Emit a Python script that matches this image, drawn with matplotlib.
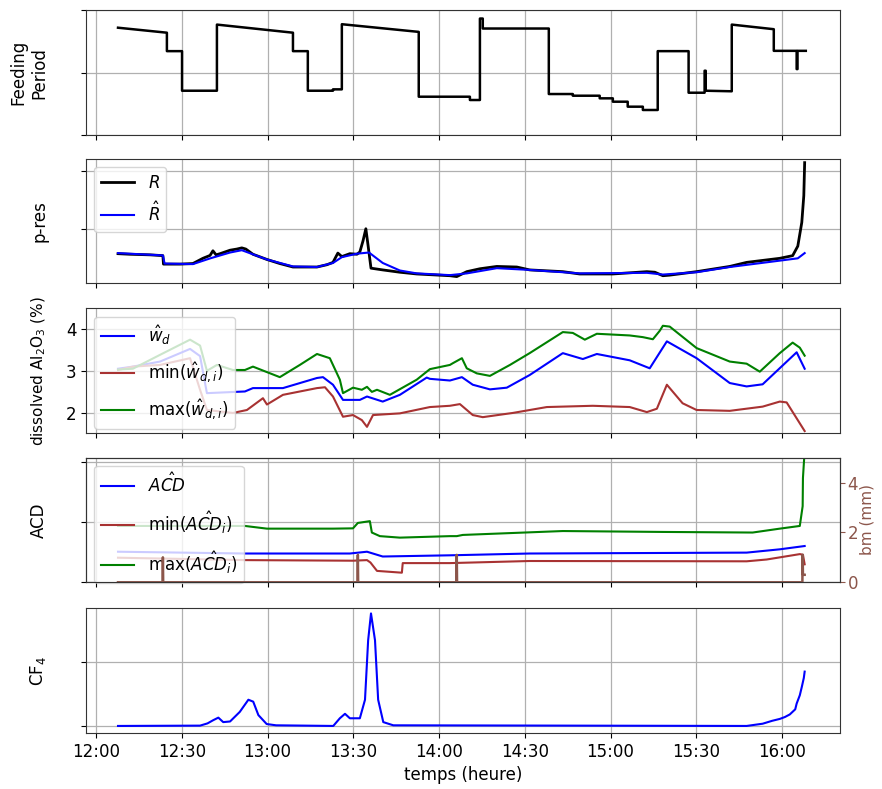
import numpy as np
import pandas as pd
import matplotlib
matplotlib.use('Agg')
import matplotlib.pyplot as plt
import matplotlib.dates as mdates

# minutes after 12:00 for every series
feed_t = [7.7, 24.8, 24.8, 30.1, 30.1, 42.3, 42.3, 68.9, 68.9, 74.1, 74.1, 82.9, 82.9, 86.0, 86.0,
          112.9, 112.9, 130.8, 130.8, 134.3, 134.3, 135.3, 135.3, 158.4, 158.4, 166.8, 166.8, 176.2,
          176.2, 180.8, 180.8, 186.0, 186.0, 191.3, 191.3, 196.5, 196.5, 207.3, 207.3, 212.9, 212.9,
          213.3, 213.3, 222.4, 222.4, 237.1, 237.1, 245.1, 245.1, 245.4, 245.4, 248.3]
feed_v = [1.72, 1.64, 1.344, 1.344, 0.709, 0.709, 1.77, 1.64, 1.344, 1.344, 0.709, 0.709, 0.731, 0.731, 1.776,
          1.653, 0.613, 0.613, 0.56, 0.56, 1.867, 1.867, 1.707, 1.707, 0.656, 0.656, 0.629, 0.629,
          0.587, 0.587, 0.533, 0.533, 0.453, 0.453, 0.40, 0.40, 1.344, 1.344, 0.677, 0.677, 1.03,
          1.03, 0.709, 0.70, 1.77, 1.696, 1.349, 1.349, 1.056, 1.056, 1.349, 1.349]

r_t = [7.7, 11.9, 18.9, 23.4, 23.6, 29.4, 33.9, 37.4, 39.9, 40.9, 42.0, 43.4, 46.9, 49.3, 51.0, 52.4,
       54.9, 59.8, 64.3, 68.9, 77.3, 80.8, 82.9, 84.6, 86.0, 88.8, 91.3, 92.3, 93.4, 94.4, 95.1, 96.2,
       100.3, 106.3, 112.2, 123.8, 126.2, 129.7, 134.3, 140.2, 147.2, 151.7, 163.3, 169.2, 180.8,
       192.7, 195.5, 198.3, 200.7, 210.1, 221.7, 227.6, 239.2, 243.7, 245.5, 246.9, 247.6, 247.9]
r_v = [0.58, 0.57, 0.56, 0.546, 0.40, 0.40, 0.41, 0.50, 0.55, 0.63, 0.56, 0.58, 0.64, 0.66, 0.68, 0.66,
       0.57, 0.48, 0.41, 0.35, 0.35, 0.39, 0.43, 0.59, 0.53, 0.58, 0.57, 0.61, 0.80, 1.01, 0.75, 0.33,
       0.30, 0.26, 0.23, 0.20, 0.185, 0.27, 0.32, 0.36, 0.35, 0.30, 0.27, 0.23, 0.23,
       0.27, 0.26, 0.20, 0.21, 0.27, 0.36, 0.43, 0.50, 0.546, 0.71, 1.12, 1.58, 2.15]

rhat_t = [7.7, 23.4, 24.0, 33.9, 40.0, 46.9, 51.0, 59.8, 68.9, 77.3, 82.9, 86.0, 91.3, 95.5, 100.3,
          106.3, 112.2, 123.8, 129.7, 140.2, 151.7, 169.2, 192.7, 198.3, 210.1, 221.7, 239.2, 245.5, 247.9]
rhat_v = [0.59, 0.55, 0.41, 0.40, 0.50, 0.60, 0.64, 0.48, 0.36, 0.35, 0.42, 0.52, 0.58, 0.60, 0.42,
          0.29, 0.24, 0.21, 0.24, 0.33, 0.30, 0.24, 0.25, 0.22, 0.26, 0.35, 0.46, 0.50, 0.59]

wmax_t = [7.7, 12.9, 22.4, 32.9, 36.4, 38.8, 42.3, 47.9, 52.1, 54.9, 64.3, 71.3, 77.3, 81.8, 85.3, 86.4,
          89.9, 93.0, 94.8, 96.5, 98.3, 102.8, 112.2, 116.8, 123.8, 124.8, 128.0, 129.7, 133.2, 137.8,
          144.8, 151.7, 163.3, 166.8, 171.0, 175.2, 186.7, 191.3, 194.8, 197.2, 198.3, 200.7, 210.1,
          221.7, 227.6, 232.2, 239.2, 243.7, 246.2, 247.9]
wmax_v = [3.03, 3.05, 3.38, 3.74, 3.60, 3.00, 3.14, 3.02, 3.02, 3.10, 2.85, 3.14, 3.40, 3.30, 2.79, 2.47,
          2.60, 2.55, 2.62, 2.50, 2.55, 2.43, 2.79, 3.04, 3.14, 3.18, 3.30, 3.06, 2.94, 2.88,
          3.14, 3.42, 3.92, 3.90, 3.74, 3.88, 3.84, 3.80, 3.75, 3.95, 4.07, 4.05, 3.54,
          3.22, 3.17, 2.98, 3.42, 3.67, 3.55, 3.36]

wd_t = [7.7, 12.9, 22.4, 32.9, 36.4, 38.8, 52.1, 54.9, 65.4, 77.3, 79.4, 82.9, 86.4, 92.3, 94.8, 100.3,
        106.3, 115.7, 116.8, 123.8, 128.0, 131.8, 137.8, 143.7, 151.7, 163.3, 170.3, 175.2, 186.7,
        193.7, 199.7, 210.1, 221.7, 227.6, 233.2, 245.1, 247.9]
wd_v = [3.05, 3.10, 3.22, 3.52, 3.35, 2.47, 2.51, 2.59, 2.59, 2.83, 2.85, 2.67, 2.31, 2.31, 2.39, 2.27,
        2.43, 2.84, 2.81, 2.77, 2.85, 2.67, 2.56, 2.60, 2.90, 3.42, 3.28, 3.40, 3.25,
        3.06, 3.70, 3.30, 2.71, 2.63, 2.68, 3.44, 3.05]

wmin_t = [7.7, 12.9, 22.4, 32.9, 36.4, 38.8, 47.9, 52.8, 58.4, 59.8, 65.4, 77.3, 80.1, 82.9, 86.4, 89.9,
          93.0, 94.8, 96.9, 106.3, 116.8, 123.8, 127.3, 131.8, 135.3, 145.8, 157.7, 173.8, 186.7,
          192.7, 196.2, 199.7, 205.2, 210.1, 221.7, 233.2, 239.2, 241.6, 247.9]
wmin_v = [3.02, 3.10, 3.14, 3.30, 2.55, 2.07, 2.00, 2.07, 2.35, 2.20, 2.43, 2.59, 2.61, 2.39, 1.91, 1.95,
          1.83, 1.67, 1.95, 1.99, 2.14, 2.17, 2.21, 1.95, 1.90, 2.00, 2.14, 2.17, 2.14,
          2.02, 2.10, 2.67, 2.23, 2.07, 2.05, 2.15, 2.27, 2.25, 1.57]

acd_t = [7.7, 52.1, 88.8, 94.8, 100.3, 123.8, 151.7, 227.6, 239.2, 247.9]
acd_v = [0.51, 0.48, 0.48, 0.51, 0.43, 0.45, 0.48, 0.495, 0.55, 0.605]

acdmin_t = [7.7, 52.1, 89.9, 94.8, 96.0, 98.3, 107.0, 107.3, 123.8, 151.7, 227.6, 234.6, 246.2, 247.3, 247.9]
acdmin_v = [0.41, 0.37, 0.36, 0.37, 0.33, 0.19, 0.16, 0.32, 0.32, 0.355, 0.35, 0.38, 0.47, 0.46, 0.30]

acdmax_t = [7.7, 52.1, 59.8, 82.9, 89.9, 91.6, 95.8, 96.5, 99.3, 106.3, 123.8, 126.2, 128.3, 163.3,
            198.3, 229.7, 239.2, 246.2, 247.2, 247.3, 247.9]
acdmax_v = [0.94, 0.94, 0.895, 0.895, 0.90, 0.99, 1.02, 0.83, 0.77, 0.745, 0.77, 0.77, 0.79, 0.855,
            0.84, 0.83, 0.895, 0.94, 1.27, 1.74, 2.2]

bm_t = [7.7, 23.3, 23.4, 23.5, 91.5, 91.6, 91.7, 126.1, 126.2, 126.3, 247.1, 247.2, 247.3, 247.9]
bm_v = [0.0, 0.0, 1.0, 0.0, 0.0, 1.1, 0.0, 0.0, 1.1, 0.0, 0.0, 1.1, 0.3, 0.3]

cf4_t = [7.7, 36.4, 39.0, 41.0, 42.8, 44.5, 46.9, 50.3, 53.3, 55.0, 56.8, 59.7, 63.0, 83.0, 85.3, 87.1,
         88.8, 92.3, 94.1, 95.2, 96.2, 97.6, 98.7, 100.5, 104.0, 227.6, 233.2, 236.5, 239.2, 241.0,
         242.7, 244.6, 245.1, 246.2, 246.9, 247.6, 247.9]
cf4_v = [0.0, 0.005, 0.04, 0.09, 0.13, 0.06, 0.07, 0.22, 0.41, 0.38, 0.17, 0.03, 0.01, 0.0, 0.12, 0.19,
         0.12, 0.12, 0.41, 1.34, 1.76, 1.34, 0.41, 0.06, 0.01, 0.0, 0.035, 0.08, 0.11, 0.14,
         0.18, 0.26, 0.35, 0.48, 0.61, 0.75, 0.85]

base = pd.Timestamp('2019-01-01 12:00')


def to_time(minutes):
    return base + pd.to_timedelta(np.array(minutes), unit='min')


RED = '#a83232'
BROWN = '#8c564b'
FS = 12

plt.rcParams['font.size'] = FS
plt.rcParams['axes.edgecolor'] = '#333333'

fig = plt.figure(figsize=(8.82, 7.89), dpi=100)
L, W, H = 0.0975, 0.855, 0.158
bottoms = [0.829, 0.641, 0.451, 0.262, 0.071]
axes = []
for b in bottoms:
    ax = fig.add_axes([L, b, W, H], sharex=axes[0] if axes else None)
    ax.grid(True, color='#b0b0b0', lw=0.9)
    axes.append(ax)
ax1, ax2, ax3, ax4, ax5 = axes

ax1.plot(to_time(feed_t), feed_v, color='black', lw=1.8)
ax1.set_ylim(0, 2)
ax1.set_yticks([0, 1, 2])
ax1.set_ylabel('Feeding\nPeriod')

ax2.plot(to_time(r_t), r_v, color='black', lw=2, label=r'$R$')
ax2.plot(to_time(rhat_t), rhat_v, color='blue', lw=1.5, label=r'$\hat{R}$')
ax2.set_ylim(0.07, 2.22)
ax2.set_yticks([1, 2])
ax2.set_ylabel('p-res')
ax2.legend(loc='upper left', labelspacing=0.6, fontsize=FS)

ax3.plot(to_time(wd_t), wd_v, color='blue', lw=1.5, label=r'$\hat{w}_d$')
ax3.plot(to_time(wmin_t), wmin_v, color=RED, lw=1.5, label=r'min($\hat{w}_{d,i}$)')
ax3.plot(to_time(wmax_t), wmax_v, color='green', lw=1.5, label=r'max($\hat{w}_{d,i}$)')
ax3.set_ylim(1.52, 4.48)
ax3.set_yticks([2, 3, 4])
ax3.set_ylabel(r'dissolved Al$_2$O$_3$ (%)', fontsize=11)
ax3.legend(loc='upper left', labelspacing=0.8, fontsize=FS)

ax4.plot(to_time(acd_t), acd_v, color='blue', lw=1.5, label=r'$\hat{ACD}$')
ax4.plot(to_time(acdmin_t), acdmin_v, color=RED, lw=1.5, label=r'min($\hat{ACD}_i$)')
ax4.plot(to_time(acdmax_t), acdmax_v, color='green', lw=1.5, label=r'max($\hat{ACD}_i$)')
ax4.set_ylim(0, 2.08)
ax4.set_yticks([0, 1, 2])
ax4.set_ylabel('ACD')
ax4.legend(loc='upper left', labelspacing=0.8, fontsize=FS)

ax4b = ax4.twinx()
ax4b.plot(to_time(bm_t), bm_v, color=BROWN, lw=1.8)
ax4b.set_ylim(0, 5)
ax4b.set_yticks([0, 2, 4])
ax4b.tick_params(axis='y', colors=BROWN, labelsize=FS, pad=2)
ax4b.spines['right'].set_color('#333333')
ax4b.set_ylabel('bm (mm)', color=BROWN, fontsize=11, labelpad=1)

ax5.plot(to_time(cf4_t), cf4_v, color='blue', lw=1.5)
ax5.set_ylim(-0.11, 1.84)
ax5.set_yticks([0, 1])
ax5.set_ylabel(r'CF$_4$')
ax5.set_xlabel('temps (heure)')

for ax in axes:
    if ax is not ax3:
        ax.tick_params(axis='y', labelleft=False)
    if ax is not ax5:
        ax.tick_params(axis='x', labelbottom=False)
    ax.yaxis.set_label_coords(-0.05, 0.5)

ax5.set_xlim(to_time([-3.5])[0], to_time([260.3])[0])
ax5.xaxis.set_major_locator(mdates.MinuteLocator(byminute=[0, 30]))
ax5.xaxis.set_major_formatter(mdates.DateFormatter('%H:%M'))

fig.savefig('out.png', dpi=100)
